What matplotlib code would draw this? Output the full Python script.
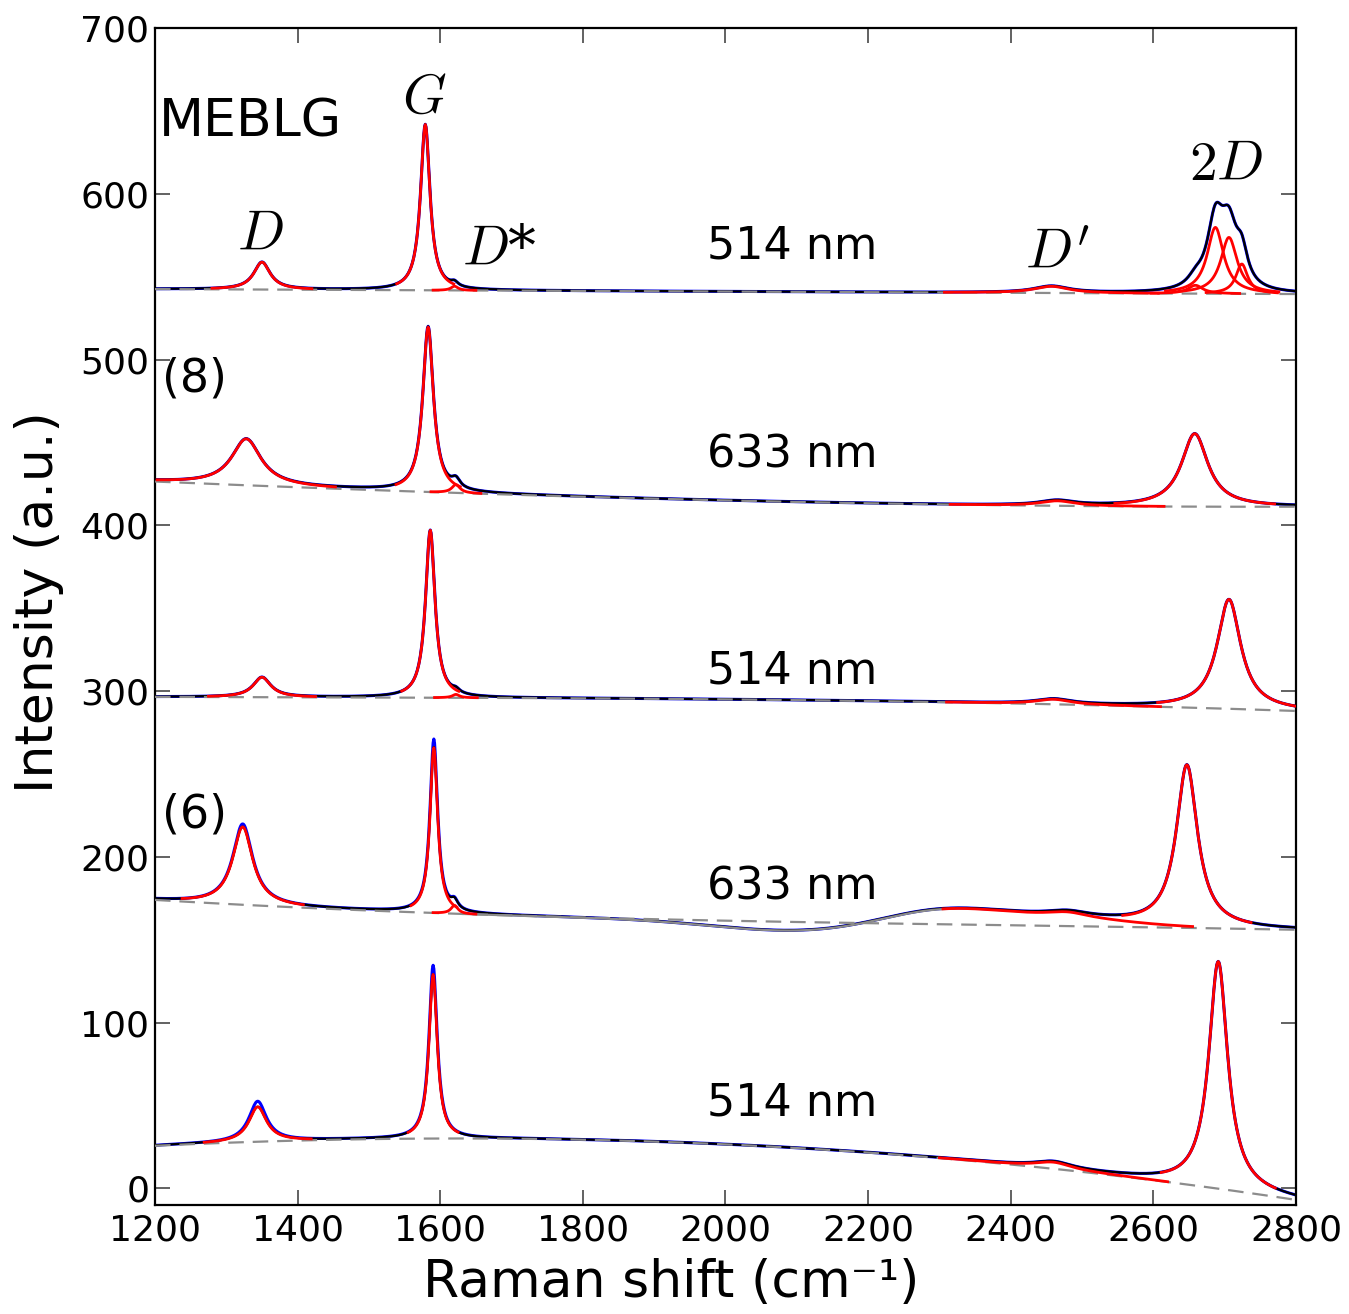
import numpy as np
import matplotlib
matplotlib.use("Agg")
import matplotlib.pyplot as plt

# ---------------- data ----------------
wavenumber = np.linspace(1200, 2800, 1601)

x_ticks = [1200, 1400, 1600, 1800, 2000, 2200, 2400, 2600, 2800]
y_ticks = [0, 100, 200, 300, 400, 500, 600, 700]

# baseline knots (dashed grey lines), one set per spectrum (top -> bottom)
base1_x = [1200, 2800]
base1_y = [542.5, 539.5]
base2_x = [1200, 1590, 2000, 2800]
base2_y = [426.4, 420.0, 415.0, 411.2]
base3_x = [1200, 1600, 2200, 2543, 2800]
base3_y = [296.5, 296.0, 294.0, 291.2, 288.0]
base4_x = [1200, 1600, 2515, 2800]
base4_y = [174.0, 166.0, 158.0, 156.0]
base5_x = [1200, 1333, 1614, 2245, 2399, 2600, 2796]
base5_y = [25.5, 28.3, 30.0, 19.5, 15.5, 4.4, -6.6]

# Lorentzian components: centre, fitted height, FWHM, height seen in the data
s1_center = [1350, 1579, 1620, 2457, 2659, 2687, 2706, 2724]
s1_height = [16.5, 100, 2.5, 4, 5, 40, 34, 18]
s1_fwhm = [28, 16, 12, 60, 25, 28, 28, 20]
s1_data_height = [16.5, 100, 2.5, 4, 5, 40, 34, 18]

s2_center = [1328, 1583, 1622, 2465, 2658]
s2_height = [28, 99.5, 5, 3, 44]
s2_fwhm = [50, 18, 14, 60, 45]
s2_data_height = [28, 99.5, 5, 3, 44]

s3_center = [1350, 1586, 1622, 2460, 2706]
s3_height = [12, 101, 2, 3, 66]
s3_fwhm = [30, 16, 12, 60, 40]
s3_data_height = [12, 101, 2, 3, 66]

s4_center = [1323, 1591, 1620, 2480, 2647]
s4_height = [47, 99.7, 5, 3, 97.5]
s4_fwhm = [34, 13, 12, 70, 36]
s4_data_height = [48.7, 104.5, 5, 3, 97.5]
# broad background bands (Gaussian) of spectrum 4: centre, amplitude, sigma
s4_band_center = [2090, 2300, 2460]
s4_band_amp = [-5.5, 8.5, 5.0]
s4_band_sigma = [110, 80, 100]

s5_center = [1344, 1590, 2460, 2691]
s5_height = [21, 99, 4, 137]
s5_fwhm = [30, 14, 64, 32]
s5_data_height = [24.3, 104.4, 4, 137]

laser_labels = ["514 nm", "633 nm", "514 nm", "633 nm", "514 nm"]
laser_label_y = [560.7, 434.7, 304.5, 174.2, 44.0]
layer_labels = ["MEBLG", "(8)", "(6)"]
peak_labels = [r"$D$", r"$G$", r"$D$*", r"$D'$", r"$2D$"]
peak_label_x = [1347, 1578, 1683, 2466, 2702]
peak_label_y = [566, 649, 557, 555, 608]

# ---------------- helpers ----------------
def lorentz(x, c, h, w):
    g = w / 2.0
    return h * g * g / ((x - c) ** 2 + g * g)

def baseline(x, bx, by):
    deg = min(len(bx) - 1, 3)
    coef = np.polyfit(np.array(bx, float) - 2000.0, by, deg)
    return np.polyval(coef, x - 2000.0)

spectra = [
    (base1_x, base1_y, s1_center, s1_height, s1_fwhm, s1_data_height, None),
    (base2_x, base2_y, s2_center, s2_height, s2_fwhm, s2_data_height, None),
    (base3_x, base3_y, s3_center, s3_height, s3_fwhm, s3_data_height, None),
    (base4_x, base4_y, s4_center, s4_height, s4_fwhm, s4_data_height,
     (s4_band_center, s4_band_amp, s4_band_sigma)),
    (base5_x, base5_y, s5_center, s5_height, s5_fwhm, s5_data_height, None),
]

# ---------------- figure ----------------
fig = plt.figure(figsize=(13.49, 13.14), dpi=100)
ax = fig.add_axes([0.1149, 0.0830, 0.8458, 0.8957])

x = wavenumber
for bx, by, cen, hei, fw, dh, bands in spectra:
    base = baseline(x, bx, by)
    bg = base.copy()
    if bands is not None:
        for bc, ba, bs in zip(*bands):
            bg = bg + ba * np.exp(-((x - bc) ** 2) / (2 * bs * bs))
    fit = bg.copy()
    data = bg.copy()
    for c, h, w, d in zip(cen, hei, fw, dh):
        fit = fit + lorentz(x, c, h, w)
        data = data + lorentz(x, c, d, w)
    ax.plot(x, data, color="#0000ff", lw=2.2, zorder=1)
    ax.plot(x, fit, color="black", lw=1.6, zorder=2)
    if bands is not None:
        m = (x >= 1630) & (x <= 2320)
        ax.plot(x[m], bg[m], color="#8c8c8c", lw=1.6, zorder=2.5)
    ax.plot(x, base, color="#8c8c8c", lw=1.6, dashes=(7, 4), zorder=3)
    for c, h, w in zip(cen, hei, fw):
        m = (x >= c - 2.5 * w) & (x <= c + 2.5 * w)
        ax.plot(x[m], bg[m] + lorentz(x[m], c, h, w), color="#ff0000",
                lw=2.0, zorder=4)

ax.set_xlim(1200, 2800)
ax.set_ylim(-10, 700)
ax.set_xticks(x_ticks)
ax.set_yticks(y_ticks)
ax.tick_params(direction="in", length=11, width=1.3, top=True, right=True,
               color="#555555", labelsize=26, pad=6)
ax.tick_params(axis="y", pad=4)
for s in ax.spines.values():
    s.set_linewidth(1.6)

ax.set_xlabel("Raman shift (cm⁻¹)", fontsize=37.5)
ax.xaxis.set_label_coords(0.452, -0.045, transform=ax.transAxes)
ax.xaxis.label.set_va("top")
ax.set_ylabel("Intensity (a.u.)", fontsize=37.5)
ax.yaxis.set_label_coords(-0.080, 0.512, transform=ax.transAxes)

for lab, yy in zip(laser_labels, laser_label_y):
    ax.text(2093, yy, lab, fontsize=32, ha="center", va="baseline", zorder=6)

ax.text(1205, 634.3, layer_labels[0], fontsize=37.5, ha="left", va="baseline")
ax.text(1210, 480.5, layer_labels[1], fontsize=33, ha="left", va="baseline")
ax.text(1210, 217.7, layer_labels[2], fontsize=33, ha="left", va="baseline")

for lab, px, py in zip(peak_labels, peak_label_x, peak_label_y):
    ax.text(px, py, lab, fontsize=40, ha="center", va="baseline",
            math_fontfamily="cm", family="DejaVu Serif")

fig.savefig("out.png", dpi=100)
